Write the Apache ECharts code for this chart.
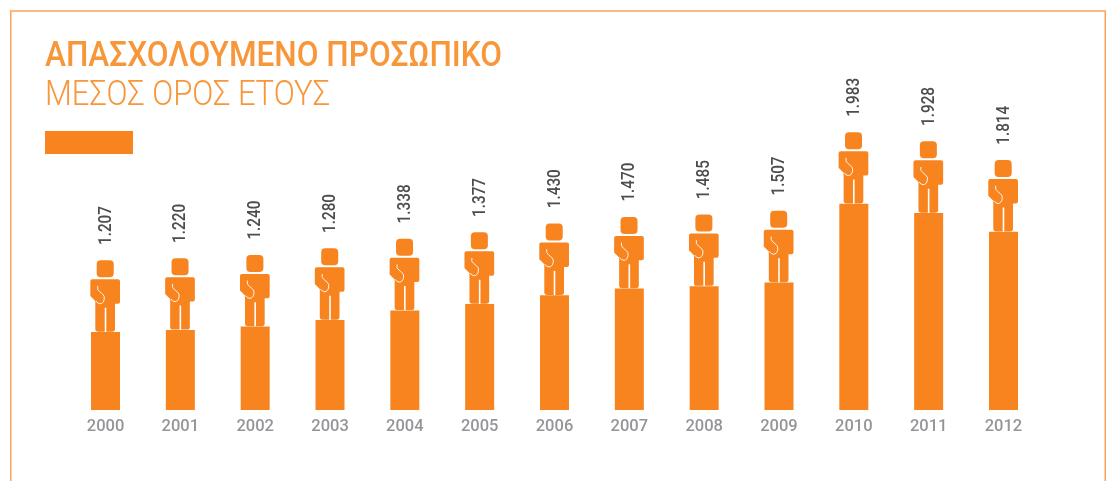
<!DOCTYPE html>
<html><head><meta charset="utf-8">
<style>html,body{margin:0;padding:0;background:#fff}#c{width:1112px;height:481px}</style>
<script src="https://cdn.jsdelivr.net/npm/echarts@6/dist/echarts.min.js"></script>
</head><body><div id="c"></div>
<script>
const years = ['2000','2001','2002','2003','2004','2005','2006','2007','2008','2009','2010','2011','2012'];
const staff = [1207,1220,1240,1280,1338,1377,1430,1470,1485,1507,1983,1928,1814];
const valueLabels = ['1.207','1.220','1.240','1.280','1.338','1.377','1.430','1.470','1.485','1.507','1.983','1.928','1.814'];
const titleText = 'ΑΠΑΣΧΟΛΟΥΜΕΝΟ ΠΡΟΣΩΠΙΚΟ';
const subtitleText = 'ΜΕΣΟΣ ΟΡΟΣ ΕΤΟΥΣ';

const ORANGE = '#f7841f', TITLE = '#f8963a', FRAME = '#f9a45c';
const BODY = 'M-13.2 -52.7 L12.5 -52.7 Q14.5 -52.7 14.5 -50.7 L14.5 -30.3 Q14.5 -28.3 12.5 -28.3 L9.5 -28.3 L9.5 -3 Q9.5 -0.3 6.5 -0.3 L0.8 -0.3 L0.8 -24.3 L-0.8 -24.3 L-0.8 -0.3 L-7.2 -0.3 Q-10.2 -0.3 -10.2 -3 L-10.2 -31 L-15.2 -36 L-15.2 -50.7 Q-15.2 -52.7 -13.2 -52.7 Z';
const CURVE = 'M-7.8 -46 L-7.8 -42.7 Q-6.5 -40.5 -3 -38 Q-0.5 -36 -1.2 -33 Q-2 -28.3 -5.5 -28.3 Q-8 -28.3 -9.5 -31';

function fitScale(text, font, target) {
  const ctx = document.createElement('canvas').getContext('2d');
  ctx.font = font;
  return target / ctx.measureText(text).width;
}
const TITLE_FONT = '500 35px Roboto', SUB_FONT = '300 35px Roboto', VALUE_FONT = '500 18.5px Roboto';
const valueScale = fitScale('1.207', VALUE_FONT, 39);

function drawFigure(params, api) {
  const i = api.value(0);
  const p = api.coord([i, api.value(1)]);
  return {
    type: 'group', x: p[0], y: p[1],
    children: [
      {type:'rect', shape:{x:-8.8,y:-71.7,width:17,height:17,r:4}, style:{fill:ORANGE}},
      {type:'path', shape:{pathData:BODY,x:-15.2,y:-52.7,width:29.7,height:52.4,layout:'cover'}, style:{fill:ORANGE}},
      {type:'path', shape:{pathData:CURVE,x:-9.5,y:-46,width:8.4,height:17.7,layout:'cover'}, style:{fill:null,stroke:'#fff',lineWidth:0.9}},
      {type:'text', x:0.5, y:-87, rotation:Math.PI/2, scaleX:valueScale,
        style:{text:valueLabels[i], fill:'#4d4d4f', font:VALUE_FONT, align:'left', verticalAlign:'middle'}}
    ]
  };
}

const chart = echarts.init(document.getElementById('c'), null, {renderer:'canvas'});
chart.setOption({
  animation:false,
  backgroundColor:'#fff',
  grid:{left:68.1, width:972.8, top:135, bottom:71, containLabel:false},
  xAxis:{type:'category', data:years, axisLine:{show:false}, axisTick:{show:false}, splitLine:{show:false},
    axisLabel:{color:'#939598', fontSize:16.5, fontWeight:500, fontFamily:'Roboto', margin:8, interval:0}},
  yAxis:{type:'value', min:735, max:2400, show:false},
  series:[
    {type:'bar', data:staff, barWidth:29, itemStyle:{color:ORANGE}, silent:true},
    {type:'custom', renderItem:drawFigure, data:staff.map((v,i)=>[i,v]), encode:{x:0,y:1}, clip:false, silent:true}
  ],
  graphic:[
    {type:'rect', shape:{x:10.75,y:11,width:1094.5,height:480}, style:{fill:null,stroke:FRAME,lineWidth:1.5}, silent:true},
    {type:'rect', shape:{x:45,y:131,width:88,height:23}, style:{fill:ORANGE}, silent:true},
    {type:'text', x:45, y:57.5, scaleX:fitScale(titleText,TITLE_FONT,457), style:{text:titleText, fill:TITLE, font:TITLE_FONT, verticalAlign:'middle', align:'left'}},
    {type:'text', x:45, y:96, scaleX:fitScale(subtitleText,SUB_FONT,285), style:{text:subtitleText, fill:TITLE, font:SUB_FONT, verticalAlign:'middle', align:'left'}}
  ]
});
</script></body></html>
